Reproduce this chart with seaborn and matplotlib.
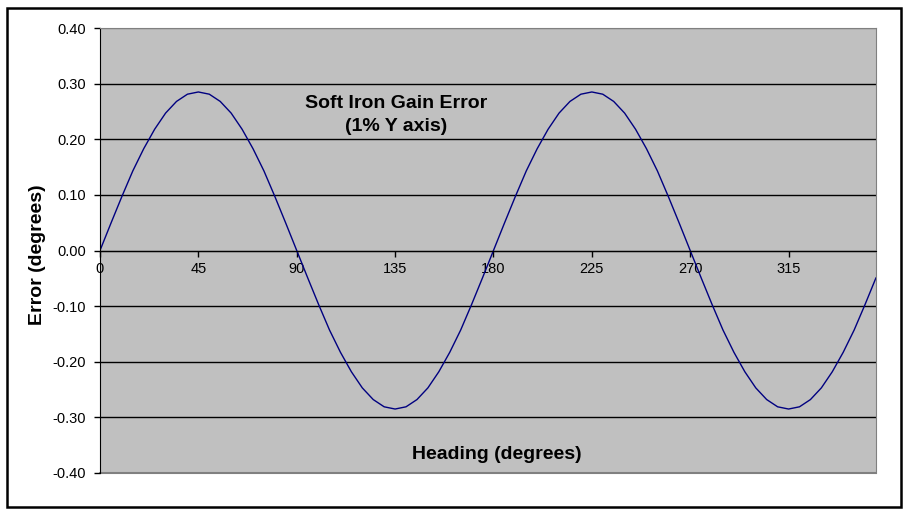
import numpy as np
import matplotlib
matplotlib.use('Agg')
import matplotlib.pyplot as plt
import seaborn as sns
import pandas as pd
from matplotlib.patches import Rectangle

sns.set_style('white')
plt.rcParams['font.family'] = ['Liberation Sans', 'DejaVu Sans']
plt.rcParams['text.color'] = 'black'
plt.rcParams['xtick.color'] = 'black'
plt.rcParams['ytick.color'] = 'black'

# heading in degrees, sampled every 5 degrees
heading = [0, 5, 10, 15, 20, 25, 30, 35, 40, 45, 50, 55, 60, 65, 70, 75, 80, 85,
           90, 95, 100, 105, 110, 115, 120, 125, 130, 135, 140, 145, 150, 155, 160, 165, 170, 175,
           180, 185, 190, 195, 200, 205, 210, 215, 220, 225, 230, 235, 240, 245, 250, 255, 260, 265,
           270, 275, 280, 285, 290, 295, 300, 305, 310, 315, 320, 325, 330, 335, 340, 345, 350, 355]
# error in degrees
error = [0.000, 0.049, 0.097, 0.143, 0.183, 0.218, 0.247, 0.268, 0.281,
         0.285, 0.281, 0.268, 0.247, 0.218, 0.183, 0.143, 0.097, 0.049,
         0.000, -0.049, -0.097, -0.143, -0.183, -0.218, -0.247, -0.268, -0.281,
         -0.285, -0.281, -0.268, -0.247, -0.218, -0.183, -0.143, -0.097, -0.049,
         0.000, 0.049, 0.097, 0.143, 0.183, 0.218, 0.247, 0.268, 0.281,
         0.285, 0.281, 0.268, 0.247, 0.218, 0.183, 0.143, 0.097, 0.049,
         0.000, -0.049, -0.097, -0.143, -0.183, -0.218, -0.247, -0.268, -0.281,
         -0.285, -0.281, -0.268, -0.247, -0.218, -0.183, -0.143, -0.097, -0.049]

x_ticks = [0, 45, 90, 135, 180, 225, 270, 315]
y_ticks = [-0.4, -0.3, -0.2, -0.1, 0.0, 0.1, 0.2, 0.3, 0.4]

df = pd.DataFrame({'heading': heading, 'error': error})

fig = plt.figure(figsize=(9.09, 5.15), dpi=100)
ax = fig.add_axes([100/909, 42/515, 776/909, 445/515])
ax.set_facecolor('#c0c0c0')

# outer chart border
fig.patches.append(Rectangle((7/909, 8/515), 894/909, 499/515, transform=fig.transFigure,
                             fill=False, edgecolor='black', linewidth=1.8))

sns.lineplot(data=df, x='heading', y='error', color='#000080', linewidth=1, ax=ax)

ax.set_xlim(0, 355)
ax.set_ylim(-0.4, 0.4)
ax.set_yticks(y_ticks)
ax.set_yticklabels([f'{v:.2f}' for v in y_ticks])
ax.set_xticks(x_ticks)

ax.yaxis.grid(True, color='black', linewidth=1)
gl = ax.get_ygridlines()
gl[0].set_color('#808080')
gl[-1].set_color('#808080')

ax.spines['bottom'].set_position(('data', 0))
ax.spines['bottom'].set_color('black')
ax.spines['left'].set_color('black')
for s in ['top', 'right']:
    ax.spines[s].set_visible(True)
    ax.spines[s].set_color('#808080')
ax.axhline(-0.4, color='#808080', linewidth=1.5, clip_on=False, zorder=0.5)

ax.tick_params(axis='both', direction='out', length=4, width=1, color='black',
               labelcolor='black', labelsize=10.5, bottom=True, left=True)
ax.tick_params(axis='x', pad=4)
ax.tick_params(axis='y', pad=6)

ax.set_xlabel('')
ax.set_ylabel('')
fig.text(37/909, 1 - 255/515, 'Error (degrees)', rotation=90, ha='center', va='center',
         fontsize=14, fontweight='bold')
ax.text(0.512, 0.042, 'Heading (degrees)', transform=ax.transAxes, ha='center', va='center',
        fontsize=14, fontweight='bold')
ax.text(0.382, 0.805, 'Soft Iron Gain Error\n(1% Y axis)', transform=ax.transAxes,
        ha='center', va='center', fontsize=14, fontweight='bold', linespacing=1.45)

fig.savefig('out.png', dpi=100, facecolor='white')
